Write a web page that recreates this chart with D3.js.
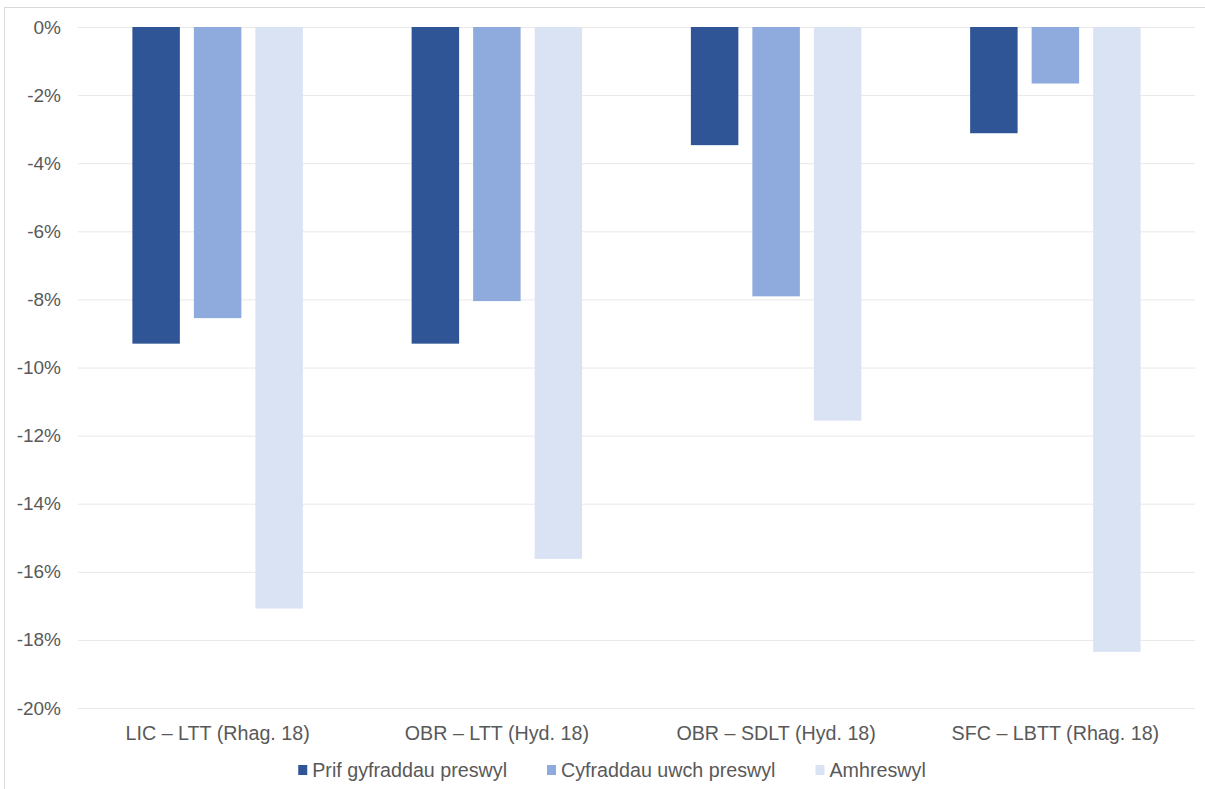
<!DOCTYPE html>
<html>
<head>
<meta charset="utf-8">
<script src="https://cdn.jsdelivr.net/npm/d3@7"></script>
<style>
  html, body { margin: 0; padding: 0; background: #fff; }
  svg { display: block; font-family: "Liberation Sans", Arial, sans-serif; }
</style>
</head>
<body>
<svg id="chart" width="1205" height="789"></svg>
<script>
const categories = ["LIC – LTT (Rhag. 18)", "OBR – LTT (Hyd. 18)", "OBR – SDLT (Hyd. 18)", "SFC – LBTT (Rhag. 18)"];
const seriesNames = ["Prif gyfraddau preswyl", "Cyfraddau uwch preswyl", "Amhreswyl"];
const seriesColors = ["#2F5597", "#8FAADC", "#DAE3F3"];
const prifValues = [-9.30, -9.30, -3.47, -3.12];
const uwchValues = [-8.55, -8.05, -7.91, -1.66];
const amhreswylValues = [-17.08, -15.62, -11.56, -18.35];
const yTicks = [0, -2, -4, -6, -8, -10, -12, -14, -16, -18, -20];

const seriesValues = [prifValues, uwchValues, amhreswylValues];

const svg = d3.select("#chart");
const W = 1205, H = 789;
const plot = { left: 78, right: 1195, top: 27, bottom: 708 };
const textColor = "#595959";
const tickFont = 19;
const labelFont = 19.7;

// outer chart border (cropped at right/bottom)
svg.append("rect")
  .attr("x", 4.5).attr("y", 7.5)
  .attr("width", W + 10).attr("height", H + 10)
  .attr("fill", "#fff").attr("stroke", "#d9d9d9").attr("stroke-width", 1);

const y = d3.scaleLinear().domain([-20, 0]).range([plot.bottom, plot.top]);
const x0 = d3.scaleBand().domain(categories).range([plot.left, plot.right]).paddingInner(0).paddingOuter(0);
const x1 = d3.scaleBand().domain(seriesNames).range([0, x0.bandwidth()]).paddingInner(0.228).paddingOuter(0.884);

// gridlines + y tick labels
const yAxis = d3.axisLeft(y).tickValues(yTicks).tickSize(-(plot.right - plot.left)).tickPadding(17)
  .tickFormat(d => d + "%");
const gy = svg.append("g").attr("transform", `translate(${plot.left},0)`).call(yAxis);
gy.select(".domain").remove();
gy.selectAll(".tick line").attr("stroke", "#e8e8e8").attr("stroke-width", 1);
gy.selectAll(".tick text").attr("fill", textColor).attr("font-size", tickFont)
  .attr("font-family", "Liberation Sans, Arial, sans-serif");

// bars
const groups = svg.append("g").selectAll("g")
  .data(categories)
  .join("g")
  .attr("transform", d => `translate(${x0(d)},0)`);

groups.selectAll("rect")
  .data((c, ci) => seriesNames.map((s, si) => ({ s, si, v: seriesValues[si][ci] })))
  .join("rect")
  .attr("x", d => x1(d.s))
  .attr("width", x1.bandwidth())
  .attr("y", d => y(0))
  .attr("height", d => y(d.v) - y(0))
  .attr("fill", d => seriesColors[d.si]);

// category labels
const xAxis = d3.axisBottom(x0).tickSize(0).tickPadding(0);
const gx = svg.append("g").attr("transform", `translate(0,${plot.bottom})`).call(xAxis);
gx.select(".domain").remove();
gx.selectAll(".tick text").attr("fill", textColor).attr("font-size", labelFont)
  .attr("font-family", "Liberation Sans, Arial, sans-serif")
  .attr("dy", null).attr("y", 32);

// legend
const legend = svg.append("g");
const items = legend.selectAll("g").data(seriesNames).join("g");
items.append("rect").attr("width", 9).attr("height", 10).attr("y", -12)
  .attr("fill", (d, i) => seriesColors[i]);
items.append("text").attr("x", 14).attr("y", 0).text(d => d)
  .attr("fill", textColor).attr("font-size", labelFont);
let xpos = 0;
const gap = 40;
items.each(function () {
  const w = this.getBBox().width;
  d3.select(this).attr("transform", `translate(${xpos},0)`);
  xpos += w + gap;
});
const totalW = xpos - gap;
legend.attr("transform", `translate(${612 - totalW / 2},777)`);
</script>
</body>
</html>
